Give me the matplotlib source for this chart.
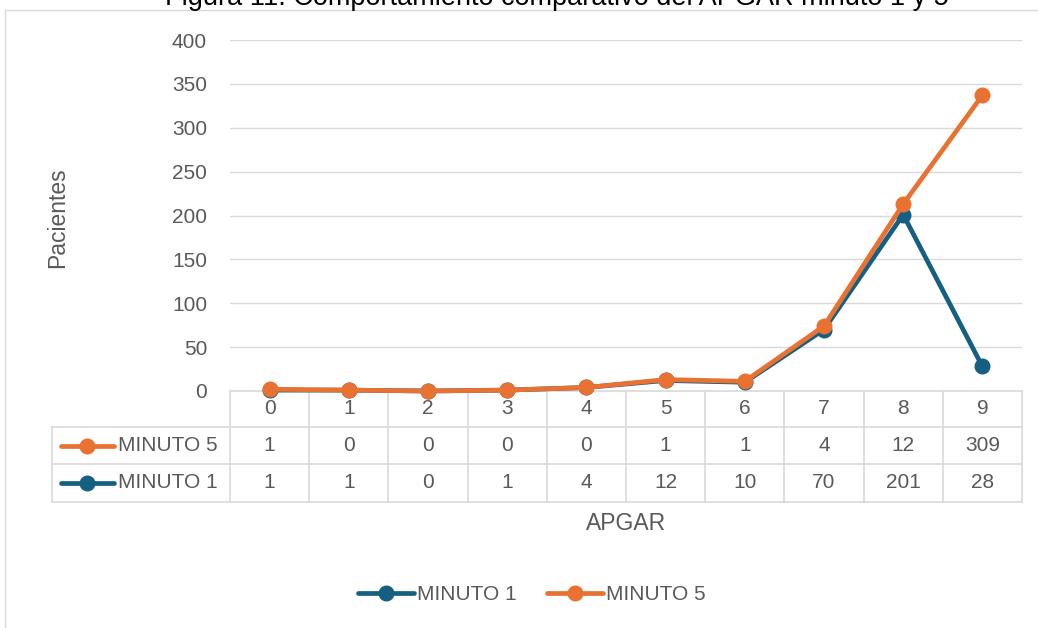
import matplotlib
matplotlib.use("Agg")
import matplotlib.pyplot as plt
from matplotlib.lines import Line2D
from matplotlib.patches import Rectangle
from matplotlib.transforms import blended_transform_factory
import numpy as np

apgar = ["0", "1", "2", "3", "4", "5", "6", "7", "8", "9"]
minuto1 = [1, 1, 0, 1, 4, 12, 10, 70, 201, 28]
minuto5 = [1, 0, 0, 0, 0, 1, 1, 4, 12, 309]
yticks = [0, 50, 100, 150, 200, 250, 300, 350, 400]
title = "Figura 11. Comportamiento comparativo del APGAR minuto 1 y 5"

BLUE = "#156082"
ORANGE = "#E97132"
GRID = "#D9D9D9"
TXT = "#595959"
FONT = ["Liberation Sans", "DejaVu Sans"]
plt.rcParams["font.family"] = FONT

W, H = 1038, 628
fig = plt.figure(figsize=(W / 100, H / 100), dpi=100)

def fx(px):
    return px / W

def fy(py):
    return 1 - py / H

# outer chart frame
fig.patches.append(Rectangle((fx(5), fy(700)), fx(1100), fy(10) - fy(700),
                             transform=fig.transFigure, fill=False,
                             edgecolor=GRID, linewidth=1.0))

fig.text(fx(557), fy(5), title, ha="center", va="baseline", fontsize=19.5,
         color="#000000")

left, right, top, bottom = 230, 1022, 40, 391
ax = fig.add_axes([fx(left), fy(bottom), fx(right - left), fy(top) - fy(bottom)])
x = np.arange(len(apgar))
stacked5 = np.array(minuto1) + np.array(minuto5)

ax.set_xlim(-0.5, len(apgar) - 0.5)
ax.set_ylim(0, 400)
ax.set_yticks(yticks)
ax.set_yticklabels([str(v) for v in yticks])
ax.tick_params(axis="y", length=0, pad=16.5, labelsize=15, labelcolor=TXT)
ax.set_xticks([])
for s in ax.spines.values():
    s.set_visible(False)
for v in yticks[1:]:
    ax.axhline(v, color=GRID, linewidth=1.0, zorder=0)

l1, = ax.plot(x, minuto1, color=BLUE, linewidth=3.4, marker="o", markersize=10.5,
              solid_capstyle="round", zorder=3, clip_on=False)
l5, = ax.plot(x, stacked5, color=ORANGE, linewidth=3.4, marker="o", markersize=10.5,
              solid_capstyle="round", zorder=4, clip_on=False)

fig.text(fx(58), fy(218), "Pacientes", rotation=90, ha="center", va="center",
         fontsize=16.5, color=TXT)

# data table
tr = blended_transform_factory(ax.transData, ax.transAxes)
ah = bottom - top

def ay(py):
    return (bottom - py) / ah

r0, r1, r2, r3 = ay(391), ay(427), ay(464), ay(502)
pxu = len(apgar) / (right - left)

def dx(px):
    return -0.5 + (px - left) * pxu

xl = dx(52)
x0, x1 = -0.5, len(apgar) - 0.5

def hline(y, xa, xb):
    ax.add_line(Line2D([xa, xb], [y, y], transform=tr, color=GRID, lw=1.2, clip_on=False))

def vline(xv, ya, yb):
    ax.add_line(Line2D([xv, xv], [ya, yb], transform=tr, color=GRID, lw=1.2, clip_on=False))

hline(r0, x0, x1)
for yv in (r1, r2, r3):
    hline(yv, xl, x1)
for k in range(len(apgar) + 1):
    vline(-0.5 + k, r0, r3)
vline(xl, r1, r3)

fs = 15
for i, lab in enumerate(apgar):
    ax.text(i, (r0 + r1) / 2, lab, transform=tr, ha="center", va="center", fontsize=fs, color=TXT)
    ax.text(i, (r1 + r2) / 2, str(minuto5[i]), transform=tr, ha="center", va="center", fontsize=fs, color=TXT)
    ax.text(i, (r2 + r3) / 2, str(minuto1[i]), transform=tr, ha="center", va="center", fontsize=fs, color=TXT)

# legend keys inside the table
for (ya, yb), col, name in (((r1, r2), ORANGE, "MINUTO 5"), ((r2, r3), BLUE, "MINUTO 1")):
    yc = (ya + yb) / 2
    ax.add_line(Line2D([dx(61), dx(114)], [yc, yc], transform=tr, color=col, lw=3.4,
                       solid_capstyle="round", clip_on=False))
    ax.add_line(Line2D([dx(87)], [yc], transform=tr, color=col, marker="o", markersize=10.5,
                       clip_on=False))
    ax.text(dx(118), yc, name, transform=tr, ha="left", va="center", fontsize=fs, color=TXT)

fig.text(fx(626), fy(524), "APGAR", ha="center", va="center", fontsize=16.5, color=TXT)

fig.legend([l1, l5], ["MINUTO 1", "MINUTO 5"], loc="center", bbox_to_anchor=(fx(532), fy(595)),
           ncol=2, frameon=False, fontsize=fs, handlelength=2.7, handletextpad=0.15,
           columnspacing=1.45, labelcolor=TXT)

fig.savefig("out.png", dpi=100)
